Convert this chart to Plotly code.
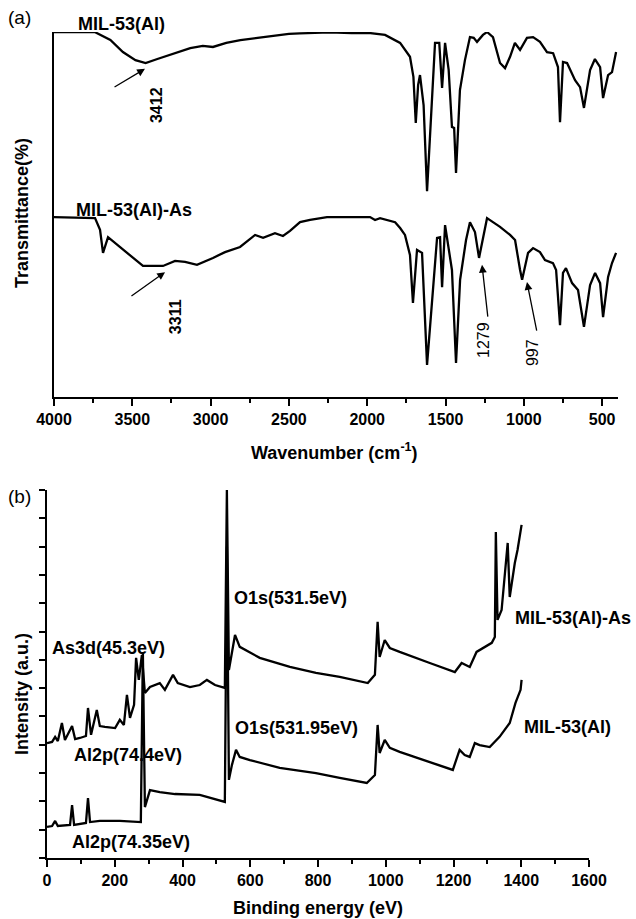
import plotly.graph_objects as go

W, H = 636, 919

# ---------------- (a) FTIR data ----------------
wn_mil = [4000, 3740, 3640, 3560, 3480, 3415, 3340, 3260, 3130, 3050, 2985, 2900, 2810, 2700,
          2620, 2500, 2430, 2300, 2240, 2100, 1980, 1886, 1790, 1727, 1705, 1690, 1675, 1663,
          1640, 1618, 1590, 1567, 1540, 1522, 1503, 1480, 1459, 1445, 1433, 1408, 1376, 1344,
          1320, 1299, 1261, 1235, 1197, 1152, 1120, 1088, 1057, 1024, 980, 941, 897, 852, 813,
          782, 769, 750, 724, 673, 641, 616, 577, 546, 513, 494, 462, 437, 411]
t_mil = [100, 100, 97.8, 94.5, 92.3, 91.5, 92.6, 93.7, 95.6, 96.2, 95.9, 97.0, 97.8, 98.4,
         98.9, 99.5, 99.6, 99.7, 99.9, 99.7, 99.7, 99.2, 97.0, 93.2, 87.7, 75.1, 85.5, 88.2,
         80.0, 56.4, 78.6, 97.0, 97.0, 84.7, 97.0, 89.6, 74.0, 73.7, 61.4, 84.1, 92.3, 98.6,
         98.4, 97.3, 99.2, 100, 98.6, 91.5, 90.1, 93.2, 97.0, 95.1, 98.4, 98.6, 97.3, 94.5, 94.2,
         90.4, 75.3, 91.8, 91.5, 86.8, 84.9, 79.2, 89.6, 92.6, 90.4, 81.9, 88.2, 89.0, 94.5]

wn_as = [4000, 3738, 3706, 3687, 3655, 3432, 3304, 3227, 3163, 3087, 2985, 2908, 2812, 2716,
         2665, 2589, 2538, 2493, 2429, 2365, 2257, 1982, 1950, 1918, 1822, 1790, 1759, 1727,
         1708, 1682, 1650, 1618, 1554, 1535, 1522, 1503, 1459, 1433, 1407, 1369, 1344, 1312,
         1286, 1261, 1235, 1197, 1152, 1088, 1056, 1024, 1011, 973, 941, 897, 865, 814, 794,
         769, 750, 731, 692, 654, 616, 577, 545, 513, 494, 462, 437, 411]
t_as = [49.3, 49.0, 45.8, 39.5, 43.8, 35.9, 35.9, 37.3, 37.0, 36.2, 38.1, 39.7, 41.1, 44.4,
        43.6, 44.9, 44.1, 45.5, 47.9, 48.5, 49.3, 49.3, 48.5, 49.0, 47.9, 46.3, 44.4, 38.9,
        25.8, 40.3, 39.5, 8.8, 43.6, 43.8, 30.1, 47.1, 34.8, 9.3, 32.1, 43.0, 47.9, 45.2,
        38.1, 43.0, 49.0, 47.9, 46.6, 44.4, 43.0, 34.8, 32.1, 39.5, 40.8, 39.7, 37.5, 36.7, 34.8,
        19.7, 34.0, 35.3, 31.2, 29.3, 19.2, 30.7, 34.0, 31.2, 21.9, 32.9, 36.7, 39.5]

ftir_ticks = [4000, 3500, 3000, 2500, 2000, 1500, 1000, 500]

# ---------------- (b) XPS data ----------------
be_mil = [0, 15, 24, 32, 68, 74, 80, 115, 121, 127, 156, 215, 277, 283, 289, 304, 333, 378,
          451, 525, 531, 537, 546, 558, 569, 599, 687, 794, 864, 944, 968, 976, 982, 997, 1012,
          1041, 1130, 1198, 1218, 1233, 1248, 1263, 1277, 1307, 1336, 1366, 1383, 1398, 1401]
i_mil = [1.10, 1.13, 1.31, 1.13, 1.17, 1.87, 1.17, 1.24, 2.12, 1.27, 1.31, 1.31, 1.27, 7.28,
         1.80, 2.40, 2.33, 2.26, 2.23, 1.98, 11.0, 2.76, 3.29, 3.82, 3.57, 3.46, 3.18, 3.00,
         2.83, 2.65, 2.93, 4.70, 3.71, 4.17, 3.89, 3.75, 3.39, 3.11, 3.82, 3.64, 3.57, 4.06,
         3.99, 3.92, 4.28, 4.77, 5.48, 5.94, 6.29]

be_as = [0, 15, 24, 32, 44, 53, 74, 83, 97, 115, 121, 130, 147, 156, 171, 201, 215, 227, 236,
         245, 257, 263, 271, 280, 289, 304, 333, 348, 372, 386, 422, 451, 472, 496, 525, 531,
         537, 555, 569, 628, 717, 794, 864, 947, 968, 976, 982, 997, 1012, 1041, 1130, 1204,
         1224, 1248, 1268, 1292, 1313, 1322, 1325, 1330, 1342, 1360, 1366, 1381, 1389, 1401]
i_as = [4.06, 4.10, 4.28, 4.13, 4.77, 4.17, 4.66, 4.20, 4.24, 4.31, 5.30, 4.35, 5.23, 4.66,
        4.63, 4.59, 4.88, 4.70, 5.76, 4.95, 5.41, 7.07, 6.29, 7.17, 5.83, 6.04, 6.18, 5.94,
        6.47, 6.18, 6.04, 6.11, 6.29, 6.11, 6.01, 13.0, 6.64, 7.88, 7.46, 7.07, 6.75, 6.54,
        6.40, 6.18, 6.47, 8.34, 7.10, 7.70, 7.42, 7.28, 6.89, 6.57, 6.89, 6.75, 7.28, 7.46,
        7.60, 7.81, 11.52, 8.41, 8.76, 11.13, 9.22, 10.42, 10.88, 11.77]

xps_ticks = [0, 200, 400, 600, 800, 1000, 1200, 1400, 1600]


def px(x):
    return x / W


def py(y):
    return 1 - y / H


FONT = "Liberation Sans, Arial, sans-serif"
line = dict(color="black", width=2.3)

fig = go.Figure()
fig.add_trace(go.Scatter(x=wn_mil, y=t_mil, mode="lines", line=line, xaxis="x", yaxis="y",
                         showlegend=False))
fig.add_trace(go.Scatter(x=wn_as, y=t_as, mode="lines", line=line, xaxis="x", yaxis="y",
                         showlegend=False))
fig.add_trace(go.Scatter(x=be_mil, y=i_mil, mode="lines", line=line, xaxis="x2", yaxis="y2",
                         showlegend=False))
fig.add_trace(go.Scatter(x=be_as, y=i_as, mode="lines", line=line, xaxis="x2", yaxis="y2",
                         showlegend=False))

tickfont = dict(family=FONT, size=16, color="black", weight="bold")

xa = dict(showgrid=False, zeroline=False, showline=True, linecolor="black", linewidth=2,
          ticks="outside", tickcolor="black", tickwidth=1.5, tickfont=tickfont,
          automargin=False)

annotations = []


def lab(text, x, y, size=18, bold=True, angle=0, xanchor="center"):
    annotations.append(dict(text=text, x=px(x), y=py(y), xref="paper", yref="paper",
                            showarrow=False, textangle=angle, xanchor=xanchor, yanchor="middle",
                            font=dict(family=FONT, size=size, color="black",
                                      weight="bold" if bold else "normal")))


def arrow(xh, yh, xt, yt, xr, yr):
    annotations.append(dict(x=xh, y=yh, ax=xt, ay=yt, xref=xr, yref=yr, axref=xr, ayref=yr,
                            text="", showarrow=True, arrowhead=2, arrowsize=1.2,
                            arrowwidth=1.3, arrowcolor="black"))


def numlab(text, x, y, bold):
    annotations.append(dict(text=text, x=x, y=y, xref="x", yref="y", showarrow=False,
                            textangle=-90,
                            font=dict(family=FONT, size=16, color="black",
                                      weight="bold" if bold else "normal")))


# panel (a) labels
lab("(a)", 19, 18, size=19, bold=False)
lab("MIL-53(Al)", 121, 24)
lab("MIL-53(Al)-As", 134, 210)
lab("Transmittance(%)", 22, 213, angle=-90)
lab("Wavenumber (cm<sup>-1</sup>)", 334, 451)
arrow(3419, 89.9, 3623, 84.7, "x", "y")
numlab("3412", 3342, 80, True)
arrow(3291, 34.2, 3515, 27.4, "x", "y")
numlab("3311", 3227, 21.9, True)
arrow(1267, 36.2, 1229, 21.6, "x", "y")
numlab("1279", 1261, 15.6, False)
arrow(980, 31.5, 916, 17.8, "x", "y")
numlab("997", 948, 12.3, False)

# panel (b) labels
lab("(b)", 19, 497, size=19, bold=False)
lab("Intensity (a.u.)", 22, 694, angle=-90)
lab("Binding energy (eV)", 318, 908)
lab("O1s(531.5eV)", 232, 598, xanchor="left")
lab("As3d(45.3eV)", 50, 648, xanchor="left")
lab("MIL-53(Al)-As", 513, 618, xanchor="left")
lab("Al2p(74.4eV)", 72, 755, xanchor="left")
lab("O1s(531.95eV)", 233, 728, xanchor="left")
lab("Al2p(74.35eV)", 70, 842, xanchor="left")
lab("MIL-53(Al)", 522, 727, xanchor="left")

fig.update_layout(
    template="none",
    width=W, height=H, margin=dict(l=0, r=0, t=0, b=0, pad=0, autoexpand=False),
    paper_bgcolor="white", plot_bgcolor="white",
    xaxis=dict(xa, domain=[px(54), px(617.8)], range=[4000, 400], anchor="y",
               tickmode="array", tickvals=ftir_ticks, ticklen=7,
               minor=dict(tickmode="linear", tick0=0, dtick=250, ticks="outside", ticklen=4,
                          tickcolor="black", tickwidth=1.5)),
    yaxis=dict(domain=[py(397), py(32)], range=[0, 100], anchor="x", showgrid=False,
               zeroline=False, showline=True, linecolor="black", linewidth=2,
               showticklabels=False, ticks="", automargin=False),
    xaxis2=dict(xa, domain=[px(47), px(589)], range=[0, 1600], anchor="y2",
                tickmode="array", tickvals=xps_ticks, ticklen=7,
                minor=dict(tickmode="linear", tick0=0, dtick=100, ticks="outside", ticklen=4,
                           tickcolor="black", tickwidth=1.5)),
    yaxis2=dict(domain=[py(858), py(490)], range=[0, 13], anchor="x2", showgrid=False,
                zeroline=False, showline=True, linecolor="black", linewidth=2,
                showticklabels=False, ticks="outside", tickmode="linear", tick0=0, dtick=1,
                ticklen=6, tickwidth=1.5, tickcolor="black", automargin=False),
    annotations=annotations,
)

fig.write_html("out.html")
